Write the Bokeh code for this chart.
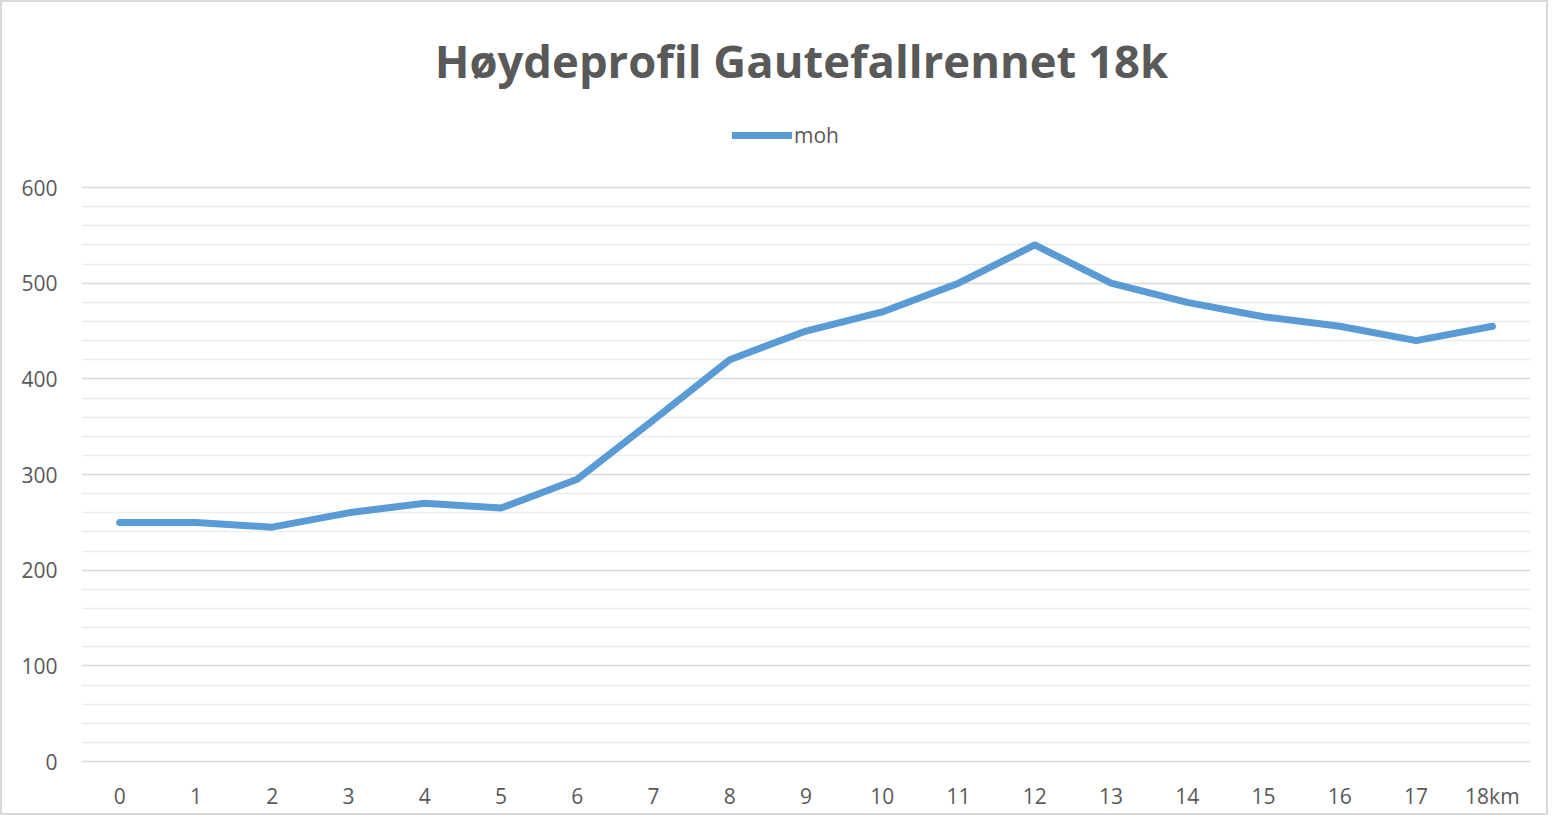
from bokeh.plotting import figure
from bokeh.models import (FactorRange, Range1d, FixedTicker, Legend,
                          LegendItem, ColumnDataSource)
from bokeh.core.properties import value
from bokeh.embed import file_html
from bokeh.resources import INLINE

categories = ["0", "1", "2", "3", "4", "5", "6", "7", "8", "9", "10",
              "11", "12", "13", "14", "15", "16", "17", "18km"]
moh = [250, 250, 245, 260, 270, 265, 295, 357, 420, 450, 470,
       500, 540, 500, 480, 465, 455, 440, 455]
major_ticks = [0, 100, 200, 300, 400, 500, 600]
minor_ticks = [v for v in range(20, 600, 20) if v % 100]
title_text = "Høydeprofil Gautefallrennet 18k"
series_name = "moh"

TXT = "#595959"
FONT = "Open Sans"

# frame extends to the top of the figure so the title/legend sit inside it
p = figure(width=1548, height=815, x_range=FactorRange(*categories),
           y_range=Range1d(-2, 793.4), output_backend="svg",
           toolbar_location=None, title=None,
           min_border_left=79, min_border_right=20,
           min_border_top=0, min_border_bottom=54)
p.styles = {"border": "2px solid #d9d9d9"}
p.outline_line_color = None
p.background_fill_color = "white"

src = ColumnDataSource(dict(x=categories, y=moh))
r = p.line("x", "y", source=src, line_color="#5b9bd5", line_width=7,
           line_join="round", line_cap="round")

p.xgrid.grid_line_color = None
p.yaxis.ticker = FixedTicker(ticks=major_ticks, minor_ticks=minor_ticks)
p.ygrid.grid_line_color = "#d9d9d9"
p.ygrid.grid_line_width = 1.3
p.ygrid.minor_grid_line_color = "#ececec"
p.ygrid.minor_grid_line_width = 1.3

for ax in (p.xaxis, p.yaxis):
    ax.axis_line_color = None
    ax.major_tick_line_color = None
    ax.minor_tick_line_color = None
    ax.major_tick_out = 0
    ax.minor_tick_out = 0
    ax.major_label_text_font = FONT
    ax.major_label_text_font_size = "21px"
    ax.major_label_text_color = TXT
p.xaxis.major_label_standoff = 18
p.yaxis.major_label_standoff = 24

# chart title (drawn in data space above the 600 line)
p.text(x=[9.44], y=[732.8], text=[title_text], text_align="center",
       text_baseline="middle", text_font=value(FONT),
       text_font_style="bold", text_font_size="45.4px", text_color=TXT)

legend = Legend(items=[LegendItem(label=series_name, renderers=[r])],
                location=(651, 614), orientation="horizontal",
                glyph_width=60, glyph_height=22, label_standoff=2,
                padding=0, margin=0, border_line_alpha=0,
                background_fill_alpha=0, label_text_font=FONT,
                label_text_font_size="21px", label_text_color=TXT)
p.add_layout(legend, "center")

open("out.html", "w").write(file_html(p, INLINE))
